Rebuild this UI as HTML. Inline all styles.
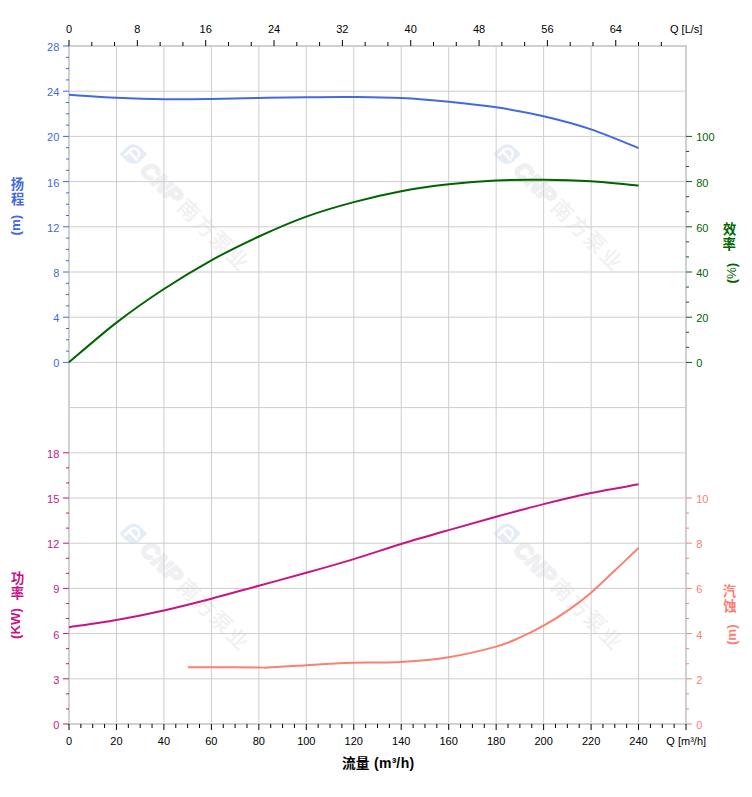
<!DOCTYPE html>
<html><head><meta charset="utf-8"><title>Pump curve</title>
<style>html,body{margin:0;padding:0;background:#fff;}svg{display:block;}text{font-family:"Liberation Sans","Noto Sans CJK SC",sans-serif;}</style></head><body>
<svg width="752" height="797" viewBox="0 0 752 797">
<rect x="0" y="0" width="752" height="797" fill="#fff"/>
<g id="wm">
<g transform="translate(133.4 154.1) rotate(45)"><path d="M-9.8 9.8 L-9.8 0 A9.8 9.8 0 0 1 0 -9.8 L9.8 -9.8 L9.8 0 A9.8 9.8 0 0 1 0 9.8 Z" fill="#e3edf8"/><path d="M-5 6.4 L-5 -0.6 A5.2 5.2 0 0 1 5.3 -1.6 M-4.4 1.2 L6.4 1.7" fill="none" stroke="#fff" stroke-width="2.4" stroke-linecap="round"/><text x="16" y="8.2" font-size="22.5" letter-spacing="0.6" font-weight="bold" font-style="italic" fill="#f0f0f2" stroke="#f0f0f2" stroke-width="2.2" stroke-linejoin="round" font-family="Liberation Sans, sans-serif">CNP</text><text x="68.5" y="8" font-size="21" letter-spacing="1.9" fill="#f1f1f1" stroke="#f1f1f1" stroke-width="0.42" font-family="Liberation Sans, Noto Sans CJK SC, sans-serif">南方泵业</text></g>
<g transform="translate(507.0 154.1) rotate(45)"><path d="M-9.8 9.8 L-9.8 0 A9.8 9.8 0 0 1 0 -9.8 L9.8 -9.8 L9.8 0 A9.8 9.8 0 0 1 0 9.8 Z" fill="#e3edf8"/><path d="M-5 6.4 L-5 -0.6 A5.2 5.2 0 0 1 5.3 -1.6 M-4.4 1.2 L6.4 1.7" fill="none" stroke="#fff" stroke-width="2.4" stroke-linecap="round"/><text x="16" y="8.2" font-size="22.5" letter-spacing="0.6" font-weight="bold" font-style="italic" fill="#f0f0f2" stroke="#f0f0f2" stroke-width="2.2" stroke-linejoin="round" font-family="Liberation Sans, sans-serif">CNP</text><text x="68.5" y="8" font-size="21" letter-spacing="1.9" fill="#f1f1f1" stroke="#f1f1f1" stroke-width="0.42" font-family="Liberation Sans, Noto Sans CJK SC, sans-serif">南方泵业</text></g>
<g transform="translate(133.4 533.6) rotate(45)"><path d="M-9.8 9.8 L-9.8 0 A9.8 9.8 0 0 1 0 -9.8 L9.8 -9.8 L9.8 0 A9.8 9.8 0 0 1 0 9.8 Z" fill="#e3edf8"/><path d="M-5 6.4 L-5 -0.6 A5.2 5.2 0 0 1 5.3 -1.6 M-4.4 1.2 L6.4 1.7" fill="none" stroke="#fff" stroke-width="2.4" stroke-linecap="round"/><text x="16" y="8.2" font-size="22.5" letter-spacing="0.6" font-weight="bold" font-style="italic" fill="#f0f0f2" stroke="#f0f0f2" stroke-width="2.2" stroke-linejoin="round" font-family="Liberation Sans, sans-serif">CNP</text><text x="68.5" y="8" font-size="21" letter-spacing="1.9" fill="#f1f1f1" stroke="#f1f1f1" stroke-width="0.42" font-family="Liberation Sans, Noto Sans CJK SC, sans-serif">南方泵业</text></g>
<g transform="translate(507.0 533.6) rotate(45)"><path d="M-9.8 9.8 L-9.8 0 A9.8 9.8 0 0 1 0 -9.8 L9.8 -9.8 L9.8 0 A9.8 9.8 0 0 1 0 9.8 Z" fill="#e3edf8"/><path d="M-5 6.4 L-5 -0.6 A5.2 5.2 0 0 1 5.3 -1.6 M-4.4 1.2 L6.4 1.7" fill="none" stroke="#fff" stroke-width="2.4" stroke-linecap="round"/><text x="16" y="8.2" font-size="22.5" letter-spacing="0.6" font-weight="bold" font-style="italic" fill="#f0f0f2" stroke="#f0f0f2" stroke-width="2.2" stroke-linejoin="round" font-family="Liberation Sans, sans-serif">CNP</text><text x="68.5" y="8" font-size="21" letter-spacing="1.9" fill="#f1f1f1" stroke="#f1f1f1" stroke-width="0.42" font-family="Liberation Sans, Noto Sans CJK SC, sans-serif">南方泵业</text></g>
</g>
<g stroke="#cdcdcd" stroke-width="1" fill="none">
<line x1="116.46" y1="46.0" x2="116.46" y2="724.0"/>
<line x1="163.92" y1="46.0" x2="163.92" y2="724.0"/>
<line x1="211.38" y1="46.0" x2="211.38" y2="724.0"/>
<line x1="258.85" y1="46.0" x2="258.85" y2="724.0"/>
<line x1="306.31" y1="46.0" x2="306.31" y2="724.0"/>
<line x1="353.77" y1="46.0" x2="353.77" y2="724.0"/>
<line x1="401.23" y1="46.0" x2="401.23" y2="724.0"/>
<line x1="448.69" y1="46.0" x2="448.69" y2="724.0"/>
<line x1="496.15" y1="46.0" x2="496.15" y2="724.0"/>
<line x1="543.62" y1="46.0" x2="543.62" y2="724.0"/>
<line x1="591.08" y1="46.0" x2="591.08" y2="724.0"/>
<line x1="638.54" y1="46.0" x2="638.54" y2="724.0"/>
<line x1="69.0" y1="91.20" x2="686.0" y2="91.20"/>
<line x1="69.0" y1="136.40" x2="686.0" y2="136.40"/>
<line x1="69.0" y1="181.60" x2="686.0" y2="181.60"/>
<line x1="69.0" y1="226.80" x2="686.0" y2="226.80"/>
<line x1="69.0" y1="272.00" x2="686.0" y2="272.00"/>
<line x1="69.0" y1="317.20" x2="686.0" y2="317.20"/>
<line x1="69.0" y1="362.40" x2="686.0" y2="362.40"/>
<line x1="69.0" y1="407.60" x2="686.0" y2="407.60"/>
<line x1="69.0" y1="452.80" x2="686.0" y2="452.80"/>
<line x1="69.0" y1="498.00" x2="686.0" y2="498.00"/>
<line x1="69.0" y1="543.20" x2="686.0" y2="543.20"/>
<line x1="69.0" y1="588.40" x2="686.0" y2="588.40"/>
<line x1="69.0" y1="633.60" x2="686.0" y2="633.60"/>
<line x1="69.0" y1="678.80" x2="686.0" y2="678.80"/>
</g>
<rect x="69.0" y="46.0" width="617.0" height="678.0" fill="none" stroke="#d0d0d0" stroke-width="2"/>
<g stroke="#4169e1" stroke-width="1"><line x1="63.00" y1="362.40" x2="69.00" y2="362.40"/><line x1="66.00" y1="351.10" x2="69.00" y2="351.10"/><line x1="66.00" y1="339.80" x2="69.00" y2="339.80"/><line x1="66.00" y1="328.50" x2="69.00" y2="328.50"/><line x1="63.00" y1="317.20" x2="69.00" y2="317.20"/><line x1="66.00" y1="305.90" x2="69.00" y2="305.90"/><line x1="66.00" y1="294.60" x2="69.00" y2="294.60"/><line x1="66.00" y1="283.30" x2="69.00" y2="283.30"/><line x1="63.00" y1="272.00" x2="69.00" y2="272.00"/><line x1="66.00" y1="260.70" x2="69.00" y2="260.70"/><line x1="66.00" y1="249.40" x2="69.00" y2="249.40"/><line x1="66.00" y1="238.10" x2="69.00" y2="238.10"/><line x1="63.00" y1="226.80" x2="69.00" y2="226.80"/><line x1="66.00" y1="215.50" x2="69.00" y2="215.50"/><line x1="66.00" y1="204.20" x2="69.00" y2="204.20"/><line x1="66.00" y1="192.90" x2="69.00" y2="192.90"/><line x1="63.00" y1="181.60" x2="69.00" y2="181.60"/><line x1="66.00" y1="170.30" x2="69.00" y2="170.30"/><line x1="66.00" y1="159.00" x2="69.00" y2="159.00"/><line x1="66.00" y1="147.70" x2="69.00" y2="147.70"/><line x1="63.00" y1="136.40" x2="69.00" y2="136.40"/><line x1="66.00" y1="125.10" x2="69.00" y2="125.10"/><line x1="66.00" y1="113.80" x2="69.00" y2="113.80"/><line x1="66.00" y1="102.50" x2="69.00" y2="102.50"/><line x1="63.00" y1="91.20" x2="69.00" y2="91.20"/><line x1="66.00" y1="79.90" x2="69.00" y2="79.90"/><line x1="66.00" y1="68.60" x2="69.00" y2="68.60"/><line x1="66.00" y1="57.30" x2="69.00" y2="57.30"/><line x1="63.00" y1="46.00" x2="69.00" y2="46.00"/></g>
<g stroke="#006400" stroke-width="1"><line x1="686.00" y1="362.40" x2="692.00" y2="362.40"/><line x1="686.00" y1="347.33" x2="689.00" y2="347.33"/><line x1="686.00" y1="332.27" x2="689.00" y2="332.27"/><line x1="686.00" y1="317.20" x2="692.00" y2="317.20"/><line x1="686.00" y1="302.13" x2="689.00" y2="302.13"/><line x1="686.00" y1="287.07" x2="689.00" y2="287.07"/><line x1="686.00" y1="272.00" x2="692.00" y2="272.00"/><line x1="686.00" y1="256.93" x2="689.00" y2="256.93"/><line x1="686.00" y1="241.87" x2="689.00" y2="241.87"/><line x1="686.00" y1="226.80" x2="692.00" y2="226.80"/><line x1="686.00" y1="211.73" x2="689.00" y2="211.73"/><line x1="686.00" y1="196.67" x2="689.00" y2="196.67"/><line x1="686.00" y1="181.60" x2="692.00" y2="181.60"/><line x1="686.00" y1="166.53" x2="689.00" y2="166.53"/><line x1="686.00" y1="151.47" x2="689.00" y2="151.47"/><line x1="686.00" y1="136.40" x2="692.00" y2="136.40"/></g>
<g stroke="#c71585" stroke-width="1"><line x1="63.00" y1="724.00" x2="69.00" y2="724.00"/><line x1="66.00" y1="708.93" x2="69.00" y2="708.93"/><line x1="66.00" y1="693.87" x2="69.00" y2="693.87"/><line x1="63.00" y1="678.80" x2="69.00" y2="678.80"/><line x1="66.00" y1="663.73" x2="69.00" y2="663.73"/><line x1="66.00" y1="648.67" x2="69.00" y2="648.67"/><line x1="63.00" y1="633.60" x2="69.00" y2="633.60"/><line x1="66.00" y1="618.53" x2="69.00" y2="618.53"/><line x1="66.00" y1="603.47" x2="69.00" y2="603.47"/><line x1="63.00" y1="588.40" x2="69.00" y2="588.40"/><line x1="66.00" y1="573.33" x2="69.00" y2="573.33"/><line x1="66.00" y1="558.27" x2="69.00" y2="558.27"/><line x1="63.00" y1="543.20" x2="69.00" y2="543.20"/><line x1="66.00" y1="528.13" x2="69.00" y2="528.13"/><line x1="66.00" y1="513.07" x2="69.00" y2="513.07"/><line x1="63.00" y1="498.00" x2="69.00" y2="498.00"/><line x1="66.00" y1="482.93" x2="69.00" y2="482.93"/><line x1="66.00" y1="467.87" x2="69.00" y2="467.87"/><line x1="63.00" y1="452.80" x2="69.00" y2="452.80"/></g>
<g stroke="#fa8072" stroke-width="1"><line x1="686.00" y1="724.00" x2="692.00" y2="724.00"/><line x1="686.00" y1="708.93" x2="689.00" y2="708.93"/><line x1="686.00" y1="693.87" x2="689.00" y2="693.87"/><line x1="686.00" y1="678.80" x2="692.00" y2="678.80"/><line x1="686.00" y1="663.73" x2="689.00" y2="663.73"/><line x1="686.00" y1="648.67" x2="689.00" y2="648.67"/><line x1="686.00" y1="633.60" x2="692.00" y2="633.60"/><line x1="686.00" y1="618.53" x2="689.00" y2="618.53"/><line x1="686.00" y1="603.47" x2="689.00" y2="603.47"/><line x1="686.00" y1="588.40" x2="692.00" y2="588.40"/><line x1="686.00" y1="573.33" x2="689.00" y2="573.33"/><line x1="686.00" y1="558.27" x2="689.00" y2="558.27"/><line x1="686.00" y1="543.20" x2="692.00" y2="543.20"/><line x1="686.00" y1="528.13" x2="689.00" y2="528.13"/><line x1="686.00" y1="513.07" x2="689.00" y2="513.07"/><line x1="686.00" y1="498.00" x2="692.00" y2="498.00"/></g>
<g stroke="#000" stroke-width="1">
<line x1="69.00" y1="40.0" x2="69.00" y2="46.0"/>
<line x1="91.78" y1="42.0" x2="91.78" y2="46.0"/>
<line x1="114.56" y1="42.0" x2="114.56" y2="46.0"/>
<line x1="137.34" y1="40.0" x2="137.34" y2="46.0"/>
<line x1="160.13" y1="42.0" x2="160.13" y2="46.0"/>
<line x1="182.91" y1="42.0" x2="182.91" y2="46.0"/>
<line x1="205.69" y1="40.0" x2="205.69" y2="46.0"/>
<line x1="228.47" y1="42.0" x2="228.47" y2="46.0"/>
<line x1="251.25" y1="42.0" x2="251.25" y2="46.0"/>
<line x1="274.03" y1="40.0" x2="274.03" y2="46.0"/>
<line x1="296.82" y1="42.0" x2="296.82" y2="46.0"/>
<line x1="319.60" y1="42.0" x2="319.60" y2="46.0"/>
<line x1="342.38" y1="40.0" x2="342.38" y2="46.0"/>
<line x1="365.16" y1="42.0" x2="365.16" y2="46.0"/>
<line x1="387.94" y1="42.0" x2="387.94" y2="46.0"/>
<line x1="410.72" y1="40.0" x2="410.72" y2="46.0"/>
<line x1="433.50" y1="42.0" x2="433.50" y2="46.0"/>
<line x1="456.29" y1="42.0" x2="456.29" y2="46.0"/>
<line x1="479.07" y1="40.0" x2="479.07" y2="46.0"/>
<line x1="501.85" y1="42.0" x2="501.85" y2="46.0"/>
<line x1="524.63" y1="42.0" x2="524.63" y2="46.0"/>
<line x1="547.41" y1="40.0" x2="547.41" y2="46.0"/>
<line x1="570.19" y1="42.0" x2="570.19" y2="46.0"/>
<line x1="592.98" y1="42.0" x2="592.98" y2="46.0"/>
<line x1="615.76" y1="40.0" x2="615.76" y2="46.0"/>
<line x1="638.54" y1="42.0" x2="638.54" y2="46.0"/>
<line x1="661.32" y1="42.0" x2="661.32" y2="46.0"/>
<line x1="69.00" y1="724.0" x2="69.00" y2="730.0"/>
<line x1="80.87" y1="724.0" x2="80.87" y2="728.0"/>
<line x1="92.73" y1="724.0" x2="92.73" y2="728.0"/>
<line x1="104.60" y1="724.0" x2="104.60" y2="728.0"/>
<line x1="116.46" y1="724.0" x2="116.46" y2="730.0"/>
<line x1="128.33" y1="724.0" x2="128.33" y2="728.0"/>
<line x1="140.19" y1="724.0" x2="140.19" y2="728.0"/>
<line x1="152.06" y1="724.0" x2="152.06" y2="728.0"/>
<line x1="163.92" y1="724.0" x2="163.92" y2="730.0"/>
<line x1="175.79" y1="724.0" x2="175.79" y2="728.0"/>
<line x1="187.65" y1="724.0" x2="187.65" y2="728.0"/>
<line x1="199.52" y1="724.0" x2="199.52" y2="728.0"/>
<line x1="211.38" y1="724.0" x2="211.38" y2="730.0"/>
<line x1="223.25" y1="724.0" x2="223.25" y2="728.0"/>
<line x1="235.12" y1="724.0" x2="235.12" y2="728.0"/>
<line x1="246.98" y1="724.0" x2="246.98" y2="728.0"/>
<line x1="258.85" y1="724.0" x2="258.85" y2="730.0"/>
<line x1="270.71" y1="724.0" x2="270.71" y2="728.0"/>
<line x1="282.58" y1="724.0" x2="282.58" y2="728.0"/>
<line x1="294.44" y1="724.0" x2="294.44" y2="728.0"/>
<line x1="306.31" y1="724.0" x2="306.31" y2="730.0"/>
<line x1="318.17" y1="724.0" x2="318.17" y2="728.0"/>
<line x1="330.04" y1="724.0" x2="330.04" y2="728.0"/>
<line x1="341.90" y1="724.0" x2="341.90" y2="728.0"/>
<line x1="353.77" y1="724.0" x2="353.77" y2="730.0"/>
<line x1="365.63" y1="724.0" x2="365.63" y2="728.0"/>
<line x1="377.50" y1="724.0" x2="377.50" y2="728.0"/>
<line x1="389.37" y1="724.0" x2="389.37" y2="728.0"/>
<line x1="401.23" y1="724.0" x2="401.23" y2="730.0"/>
<line x1="413.10" y1="724.0" x2="413.10" y2="728.0"/>
<line x1="424.96" y1="724.0" x2="424.96" y2="728.0"/>
<line x1="436.83" y1="724.0" x2="436.83" y2="728.0"/>
<line x1="448.69" y1="724.0" x2="448.69" y2="730.0"/>
<line x1="460.56" y1="724.0" x2="460.56" y2="728.0"/>
<line x1="472.42" y1="724.0" x2="472.42" y2="728.0"/>
<line x1="484.29" y1="724.0" x2="484.29" y2="728.0"/>
<line x1="496.15" y1="724.0" x2="496.15" y2="730.0"/>
<line x1="508.02" y1="724.0" x2="508.02" y2="728.0"/>
<line x1="519.88" y1="724.0" x2="519.88" y2="728.0"/>
<line x1="531.75" y1="724.0" x2="531.75" y2="728.0"/>
<line x1="543.62" y1="724.0" x2="543.62" y2="730.0"/>
<line x1="555.48" y1="724.0" x2="555.48" y2="728.0"/>
<line x1="567.35" y1="724.0" x2="567.35" y2="728.0"/>
<line x1="579.21" y1="724.0" x2="579.21" y2="728.0"/>
<line x1="591.08" y1="724.0" x2="591.08" y2="730.0"/>
<line x1="602.94" y1="724.0" x2="602.94" y2="728.0"/>
<line x1="614.81" y1="724.0" x2="614.81" y2="728.0"/>
<line x1="626.67" y1="724.0" x2="626.67" y2="728.0"/>
<line x1="638.54" y1="724.0" x2="638.54" y2="730.0"/>
<line x1="650.40" y1="724.0" x2="650.40" y2="728.0"/>
<line x1="662.27" y1="724.0" x2="662.27" y2="728.0"/>
<line x1="674.13" y1="724.0" x2="674.13" y2="728.0"/>
<line x1="686.00" y1="724.0" x2="686.00" y2="730.0"/>
</g>
<text x="59.30" y="367.30" font-size="11" text-anchor="end" fill="#4169e1">0</text>
<text x="59.30" y="322.10" font-size="11" text-anchor="end" fill="#4169e1">4</text>
<text x="59.30" y="276.90" font-size="11" text-anchor="end" fill="#4169e1">8</text>
<text x="59.30" y="231.70" font-size="11" text-anchor="end" fill="#4169e1">12</text>
<text x="59.30" y="186.50" font-size="11" text-anchor="end" fill="#4169e1">16</text>
<text x="59.30" y="141.30" font-size="11" text-anchor="end" fill="#4169e1">20</text>
<text x="59.30" y="96.10" font-size="11" text-anchor="end" fill="#4169e1">24</text>
<text x="59.30" y="50.90" font-size="11" text-anchor="end" fill="#4169e1">28</text>
<text x="696.20" y="367.30" font-size="11" text-anchor="start" fill="#006400">0</text>
<text x="696.20" y="322.10" font-size="11" text-anchor="start" fill="#006400">20</text>
<text x="696.20" y="276.90" font-size="11" text-anchor="start" fill="#006400">40</text>
<text x="696.20" y="231.70" font-size="11" text-anchor="start" fill="#006400">60</text>
<text x="696.20" y="186.50" font-size="11" text-anchor="start" fill="#006400">80</text>
<text x="696.20" y="141.30" font-size="11" text-anchor="start" fill="#006400">100</text>
<text x="59.30" y="728.90" font-size="11" text-anchor="end" fill="#c71585">0</text>
<text x="59.30" y="683.70" font-size="11" text-anchor="end" fill="#c71585">3</text>
<text x="59.30" y="638.50" font-size="11" text-anchor="end" fill="#c71585">6</text>
<text x="59.30" y="593.30" font-size="11" text-anchor="end" fill="#c71585">9</text>
<text x="59.30" y="548.10" font-size="11" text-anchor="end" fill="#c71585">12</text>
<text x="59.30" y="502.90" font-size="11" text-anchor="end" fill="#c71585">15</text>
<text x="59.30" y="457.70" font-size="11" text-anchor="end" fill="#c71585">18</text>
<text x="696.20" y="728.90" font-size="11" text-anchor="start" fill="#fa8072">0</text>
<text x="696.20" y="683.70" font-size="11" text-anchor="start" fill="#fa8072">2</text>
<text x="696.20" y="638.50" font-size="11" text-anchor="start" fill="#fa8072">4</text>
<text x="696.20" y="593.30" font-size="11" text-anchor="start" fill="#fa8072">6</text>
<text x="696.20" y="548.10" font-size="11" text-anchor="start" fill="#fa8072">8</text>
<text x="696.20" y="502.90" font-size="11" text-anchor="start" fill="#fa8072">10</text>
<text x="69.00" y="33.20" font-size="11" text-anchor="middle" fill="#000">0</text>
<text x="137.34" y="33.20" font-size="11" text-anchor="middle" fill="#000">8</text>
<text x="205.69" y="33.20" font-size="11" text-anchor="middle" fill="#000">16</text>
<text x="274.03" y="33.20" font-size="11" text-anchor="middle" fill="#000">24</text>
<text x="342.38" y="33.20" font-size="11" text-anchor="middle" fill="#000">32</text>
<text x="410.72" y="33.20" font-size="11" text-anchor="middle" fill="#000">40</text>
<text x="479.07" y="33.20" font-size="11" text-anchor="middle" fill="#000">48</text>
<text x="547.41" y="33.20" font-size="11" text-anchor="middle" fill="#000">56</text>
<text x="615.76" y="33.20" font-size="11" text-anchor="middle" fill="#000">64</text>
<text x="686.20" y="33.20" font-size="11" text-anchor="middle" fill="#000">Q [L/s]</text>
<text x="69.00" y="744.80" font-size="11" text-anchor="middle" fill="#000">0</text>
<text x="116.46" y="744.80" font-size="11" text-anchor="middle" fill="#000">20</text>
<text x="163.92" y="744.80" font-size="11" text-anchor="middle" fill="#000">40</text>
<text x="211.38" y="744.80" font-size="11" text-anchor="middle" fill="#000">60</text>
<text x="258.85" y="744.80" font-size="11" text-anchor="middle" fill="#000">80</text>
<text x="306.31" y="744.80" font-size="11" text-anchor="middle" fill="#000">100</text>
<text x="353.77" y="744.80" font-size="11" text-anchor="middle" fill="#000">120</text>
<text x="401.23" y="744.80" font-size="11" text-anchor="middle" fill="#000">140</text>
<text x="448.69" y="744.80" font-size="11" text-anchor="middle" fill="#000">160</text>
<text x="496.15" y="744.80" font-size="11" text-anchor="middle" fill="#000">180</text>
<text x="543.62" y="744.80" font-size="11" text-anchor="middle" fill="#000">200</text>
<text x="591.08" y="744.80" font-size="11" text-anchor="middle" fill="#000">220</text>
<text x="638.54" y="744.80" font-size="11" text-anchor="middle" fill="#000">240</text>
<text x="686.20" y="744.80" font-size="11" text-anchor="middle" fill="#000">Q [m³/h]</text>
<path d="M69.00 94.80C76.91 95.28 100.64 96.97 116.46 97.70C132.28 98.43 148.10 98.98 163.92 99.20C179.74 99.42 195.56 99.20 211.38 99.00C227.21 98.80 243.03 98.30 258.85 98.00C274.67 97.70 290.49 97.37 306.31 97.20C322.13 97.03 337.95 96.87 353.77 97.00C369.59 97.13 385.41 97.22 401.23 98.00C417.05 98.78 432.87 100.15 448.69 101.70C464.51 103.25 480.33 104.87 496.15 107.30C511.97 109.73 527.79 112.62 543.62 116.30C559.44 119.98 575.26 124.10 591.08 129.40C606.90 134.70 630.63 144.98 638.54 148.10" fill="none" stroke="#4169e1" stroke-width="2" stroke-linejoin="round" stroke-linecap="butt"/>
<path d="M69.00 362.30C76.91 355.68 100.64 334.82 116.46 322.60C132.28 310.38 148.10 299.38 163.92 289.00C179.74 278.62 195.56 269.05 211.38 260.30C227.21 251.55 243.03 243.78 258.85 236.50C274.67 229.22 290.49 222.33 306.31 216.60C322.13 210.87 337.95 206.33 353.77 202.10C369.59 197.87 385.41 194.17 401.23 191.20C417.05 188.23 432.87 186.10 448.69 184.30C464.51 182.50 480.33 181.17 496.15 180.40C511.97 179.63 527.79 179.55 543.62 179.70C559.44 179.85 575.26 180.32 591.08 181.30C606.90 182.28 630.63 184.88 638.54 185.60" fill="none" stroke="#006400" stroke-width="2" stroke-linejoin="round" stroke-linecap="butt"/>
<path d="M69.00 627.20C76.91 625.98 100.64 622.70 116.46 619.90C132.28 617.10 148.10 613.93 163.92 610.40C179.74 606.87 195.56 602.82 211.38 598.70C227.21 594.58 243.03 590.02 258.85 585.70C274.67 581.38 290.49 577.23 306.31 572.80C322.13 568.37 337.95 563.90 353.77 559.10C369.59 554.30 385.41 548.83 401.23 544.00C417.05 539.17 432.87 534.65 448.69 530.10C464.51 525.55 480.33 521.03 496.15 516.70C511.97 512.37 527.79 508.05 543.62 504.10C559.44 500.15 575.26 496.30 591.08 493.00C606.90 489.70 630.63 485.75 638.54 484.30" fill="none" stroke="#c71585" stroke-width="2" stroke-linejoin="round" stroke-linecap="butt"/>
<path d="M187.90 667.30C191.82 667.28 199.56 667.18 211.38 667.20C223.21 667.22 249.44 667.33 258.85 667.40C268.26 667.47 259.93 667.97 267.84 667.60C275.75 667.23 295.98 665.83 306.31 665.20C316.63 664.57 321.88 664.22 329.79 663.80C337.70 663.38 341.86 663.02 353.77 662.70C365.68 662.38 385.41 662.82 401.23 661.90C417.05 660.98 432.87 659.75 448.69 657.20C464.51 654.65 484.33 649.85 496.15 646.60C507.98 643.35 511.72 641.18 519.63 637.70C527.55 634.22 535.66 630.17 543.62 625.70C551.57 621.23 559.44 616.40 567.35 610.90C575.26 605.40 583.21 599.40 591.08 592.70C598.95 586.00 606.65 578.15 614.56 570.70C622.47 563.25 634.54 551.78 638.54 548.00" fill="none" stroke="#fa8072" stroke-width="2" stroke-linejoin="round" stroke-linecap="butt"/>
<text x="10.8" y="188.8" font-size="13.3" font-weight="bold" fill="#4169e1">扬</text>
<text x="10.9" y="203.5" font-size="13.3" font-weight="bold" fill="#4169e1">程</text>
<text transform="translate(20.40 225.20) rotate(-90)" font-size="13.33" font-weight="bold" text-anchor="middle" fill="#4169e1">(m)</text>
<text x="722.9" y="233.6" font-size="13.3" font-weight="bold" fill="#006400">效</text>
<text x="722.6" y="248.5" font-size="13.3" font-weight="bold" fill="#006400">率</text>
<text transform="translate(735.80 273.10) rotate(-90)" font-size="13.33" font-weight="bold" text-anchor="middle" fill="#006400">(<tspan font-weight="normal">%</tspan>)</text>
<text x="10.9" y="582.7" font-size="13.3" font-weight="bold" fill="#c71585">功</text>
<text x="10.7" y="597.5" font-size="13.3" font-weight="bold" fill="#c71585">率</text>
<text transform="translate(20.30 623.50) rotate(-90)" font-size="13.33" font-weight="bold" text-anchor="middle" fill="#c71585">(KW)</text>
<text x="722.8" y="595.7" font-size="13.3" font-weight="bold" fill="#fa8072">汽</text>
<text x="723.2" y="611.3" font-size="13.3" font-weight="bold" fill="#fa8072">蚀</text>
<text transform="translate(736.10 634.75) rotate(-90)" font-size="13.33" font-weight="bold" text-anchor="middle" fill="#fa8072">(m)</text>
<text x="342.1" y="768" font-size="13.7" font-weight="bold" fill="#000">流量</text>
<text y="767.5" font-size="14" font-weight="bold" fill="#000" x="374.0 378.9 391.7 396.2 400.8 409.4">(m³/h)</text>
</svg></body></html>
